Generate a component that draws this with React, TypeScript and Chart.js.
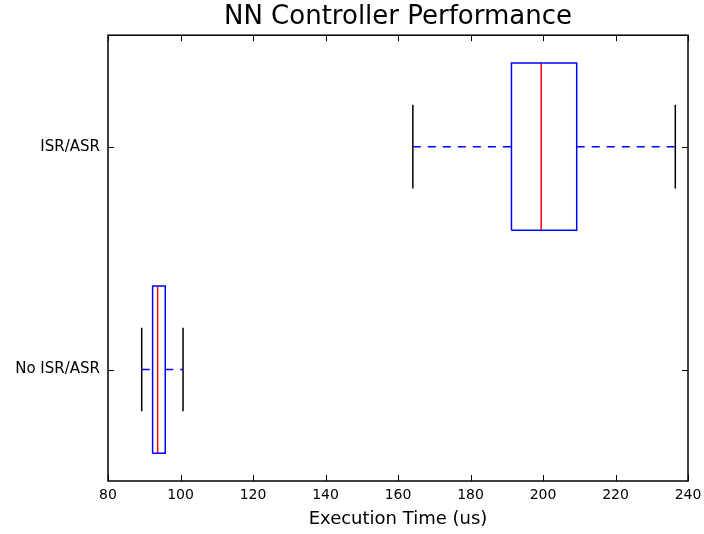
import React, { useEffect, useRef } from "react";
import { Chart, registerables } from "chart.js";

Chart.register(...registerables);

const categories = ["No ISR/ASR", "ISR/ASR"];
const whiskerLow = [89.3, 164.1];
const q1 = [92.3, 191.3];
const median = [93.7, 199.5];
const q3 = [95.8, 209.3];
const whiskerHigh = [100.7, 236.5];
const xTickValues = [80, 100, 120, 140, 160, 180, 200, 220, 240];

const BOX_HALF = 0.375;
const CAP_HALF = 0.1875;
const FONT = "'DejaVu Sans', sans-serif";

function seg(points: { x: number; y: number }[], color: string, dash: number[] = []) {
  return {
    data: points,
    showLine: true,
    borderColor: color,
    backgroundColor: color,
    borderWidth: 1.5,
    borderDash: dash,
    pointRadius: 0,
    pointHoverRadius: 0,
    tension: 0,
    fill: false,
  };
}

function buildDatasets() {
  const ds: any[] = [];
  categories.forEach((_, i) => {
    const y = i + 1;
    ds.push(
      seg(
        [
          { x: q1[i], y: y - BOX_HALF },
          { x: q3[i], y: y - BOX_HALF },
          { x: q3[i], y: y + BOX_HALF },
          { x: q1[i], y: y + BOX_HALF },
          { x: q1[i], y: y - BOX_HALF },
        ],
        "#0000ff"
      )
    );
    ds.push(seg([{ x: whiskerLow[i], y }, { x: q1[i], y }], "#0000ff", [8, 7]));
    ds.push(seg([{ x: q3[i], y }, { x: whiskerHigh[i], y }], "#0000ff", [8, 7]));
    ds.push(seg([{ x: whiskerLow[i], y: y - CAP_HALF }, { x: whiskerLow[i], y: y + CAP_HALF }], "#000000"));
    ds.push(seg([{ x: whiskerHigh[i], y: y - CAP_HALF }, { x: whiskerHigh[i], y: y + CAP_HALF }], "#000000"));
    ds.push(seg([{ x: median[i], y: y - BOX_HALF }, { x: median[i], y: y + BOX_HALF }], "#ff0000"));
  });
  return ds;
}

const framePlugin = {
  id: "frameTicks",
  afterDraw(chart: any) {
    const { ctx, chartArea } = chart;
    const { left, right, top, bottom } = chartArea;
    const xs = chart.scales.x;
    const ys = chart.scales.y;
    ctx.save();
    ctx.strokeStyle = "#000";
    ctx.lineWidth = 1;
    ctx.beginPath();
    const L = 6;
    xTickValues.forEach((v) => {
      const px = Math.round(xs.getPixelForValue(v)) + 0.5;
      ctx.moveTo(px, bottom);
      ctx.lineTo(px, bottom - L);
      ctx.moveTo(px, top);
      ctx.lineTo(px, top + L);
    });
    categories.forEach((_, i) => {
      const py = Math.round(ys.getPixelForValue(i + 1)) + 0.5;
      ctx.moveTo(left, py);
      ctx.lineTo(left + L, py);
      ctx.moveTo(right, py);
      ctx.lineTo(right - L, py);
    });
    ctx.stroke();
    ctx.lineWidth = 1.5;
    ctx.strokeRect(left, top, right - left, bottom - top);
    ctx.restore();
  },
};

export default function App() {
  const ref = useRef<HTMLCanvasElement | null>(null);

  useEffect(() => {
    document.body.style.margin = "0";
    if (!ref.current) return;
    Chart.defaults.color = "#000";
    const chart = new Chart(ref.current, {
      type: "scatter",
      data: { datasets: buildDatasets() },
      options: {
        animation: false,
        responsive: false,
        layout: { padding: { left: 0, right: 16, top: 0, bottom: 0 } },
        plugins: {
          legend: { display: false },
          tooltip: { enabled: false },
          title: {
            display: true,
            text: "NN Controller Performance",
            fullSize: false,
            color: "#000",
            font: { family: FONT, size: 26, weight: "normal" },
            padding: { top: 2, bottom: 2 },
          },
        },
        scales: {
          x: {
            type: "linear",
            min: 80,
            max: 240,
            grid: { display: false, drawTicks: false },
            border: { display: false },
            ticks: {
              stepSize: 20,
              padding: 6,
              color: "#000",
              font: { family: FONT, size: 14 },
              maxRotation: 0,
            },
            title: {
              display: true,
              text: "Execution Time (us)",
              color: "#000",
              font: { family: FONT, size: 18 },
              padding: { top: 0, bottom: 4 },
            },
            afterFit(scale: any) {
              scale.height = 53;
              scale.paddingLeft = 0;
              scale.paddingRight = 0;
            },
          },
          y: {
            type: "linear",
            min: 0.5,
            max: 2.5,
            grid: { display: false, drawTicks: false },
            border: { display: false },
            afterBuildTicks(scale: any) {
              scale.ticks = categories.map((_, i) => ({ value: i + 1 }));
            },
            ticks: {
              padding: 8,
              color: "#000",
              font: { family: FONT, size: 15 },
              callback: (v: any) => categories[Number(v) - 1] ?? "",
            },
            afterFit(scale: any) {
              scale.width = 108;
              scale.paddingTop = 0;
              scale.paddingBottom = 0;
            },
          },
        },
      } as any,
      plugins: [framePlugin],
    });
    return () => chart.destroy();
  }, []);

  return (
    <div style={{ width: 704, height: 534, background: "#fff" }}>
      <canvas ref={ref} width={704} height={534} style={{ display: "block" }} />
    </div>
  );
}
